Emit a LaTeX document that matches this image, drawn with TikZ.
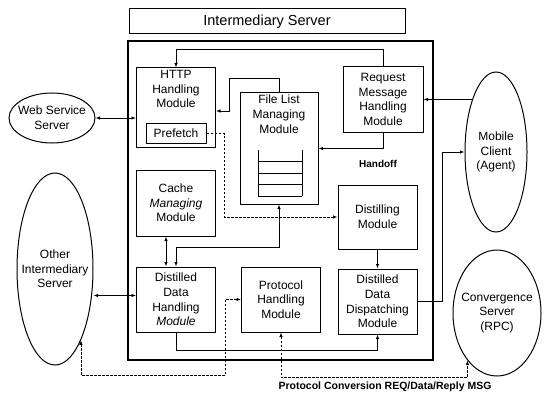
\documentclass[tikz,border=0pt]{standalone}
\usepackage{fontspec}
\setmainfont{Liberation Sans}
\usetikzlibrary{arrows.meta, positioning, calc, shapes.geometric}

\begin{document}
\begin{tikzpicture}[x=1pt, y=-1pt,
  box/.style={draw, line width=1pt, minimum width=79pt, minimum height=65pt, align=center, inner sep=1pt, font=\fontsize{12}{14.7}\selectfont},
  txt/.style={align=center, inner sep=1pt, font=\fontsize{12}{14.7}\selectfont},
  host/.style={draw, ellipse, line width=1pt, inner sep=0pt},
  arr/.style={-{Latex[length=4.5pt, width=3.5pt]}, line width=0.8pt},
  darr/.style={{Latex[length=4.5pt, width=3.5pt]}-{Latex[length=4.5pt, width=3.5pt]}, line width=0.8pt},
  dasharr/.style={arr, dash pattern=on 2.5pt off 1.5pt},
  ddasharr/.style={darr, dash pattern=on 2.5pt off 1.5pt},
  lbl/.style={font=\fontsize{10}{12}\selectfont\bfseries, inner sep=0pt}
]
  \useasboundingbox (0,0) rectangle (551,393);

  \node[draw, line width=1pt, minimum width=276pt, minimum height=25pt, font=\fontsize{14.5}{16}\selectfont] (title) at (267,21.5) {Intermediary Server};
  \draw[line width=2.2pt] (128,41) rectangle (433,360);

  \node[box, minimum height=79pt] (http) at (176,107.5) {};
  \node[txt, below=1.5pt of http.north] (httptext) {HTTP\\Handling\\Module};
  \node[box, minimum width=60pt, minimum height=19pt, above=4pt of http.south] (prefetch) {Prefetch};
  \node[box, minimum height=66pt, below=22pt of http] (cache) {Cache\\\textit{Managing}\\Module};
  \node[box, below=30pt of cache] (ddh) {Distilled\\Data\\Handling\\\textit{Module}};
  \node[box, right=25pt of ddh] (proto) {Protocol\\Handling\\Module};

  \node[box, minimum width=78pt, minimum height=111pt] (filelist) at (279,148.5) {};
  \node[txt, below=1.5pt of filelist.north] (fltext) {File List\\Managing\\Module};
  \draw[line width=1pt] (258,150) -- (258,196) (302,150) -- (302,196);
  \foreach \yy in {161,173,184,196}
    \draw[line width=1pt] (258,\yy) -- (302,\yy);

  \node[box, minimum width=80pt] (request) at (383,99.5) {Request\\Message\\Handling\\Module};
  \node[box, minimum height=64pt] (distil) at (377.5,217) {Distilling\\Module};
  \node[box, below=19pt of distil] (dispatch) {Distilled\\Data\\Dispatching\\Module};

  \node[host, minimum width=86pt, minimum height=50pt] (web) at (52,118) {};
  \node[txt] (webtext) at (web) {Web Service\\Server};
  \node[host, minimum width=76pt, minimum height=192pt] (other) at (55,269) {};
  \node[txt] (othertext) at (other) {Other\\Intermediary\\Server};
  \node[host, minimum width=62pt, minimum height=160pt] (mobile) at (496,152) {};
  \node[txt] (mobiletext) at (mobile) {Mobile\\Client\\(Agent)};
  \node[host, minimum width=88pt, minimum height=126pt] (conv) at (497,313) {};
  \node[txt] (convtext) at (conv) {Convergence\\Server\\(RPC)};

  \draw[darr] (web.east) -- (web.east -| http.west);
  \draw[arr] (request.north) -- ++(0,-17) -| (http.north);
  \draw[arr] (filelist.north) -- ++(0,-14) -- ++(-50,0) |- ([yshift=-3.5pt]http.east);
  \draw[arr] (request.east -| mobile.113) -- (request.east);
  \draw[arr] (request.south) |- (filelist.east);
  \node[lbl] (handoff) at (378,164) {Handoff};
  \draw[dasharr] (prefetch.east) -- ++(18,0) |- (distil.west);
  \draw[darr] ([xshift=-10pt]cache.south) -- ([xshift=-10pt]ddh.north);
  \draw[darr] (filelist.south) -- ++(0,43) -| (ddh.north);
  \draw[arr] (distil) -- (dispatch);
  \draw[arr] (dispatch.east) -- ++(25,0) |- (mobile.west);
  \draw[arr] (ddh.south) -- ++(0,18) -| (dispatch.south);
  \coordinate (ddhin) at ([yshift=4pt]ddh.west);
  \draw[darr] (ddhin -| other.east) -- (ddhin);
  \draw[ddasharr] (other.290) -- ++(0,35) -| ([xshift=-16pt]proto.west) -- (proto.west);
  \draw[ddasharr] (proto.south) -- ++(0,45) -| (conv.238);
  \node[lbl, font=\fontsize{10.5}{12}\selectfont\bfseries] (protomsg) at (385,387) {Protocol Conversion REQ/Data/Reply MSG};
\end{tikzpicture}
\end{document}
